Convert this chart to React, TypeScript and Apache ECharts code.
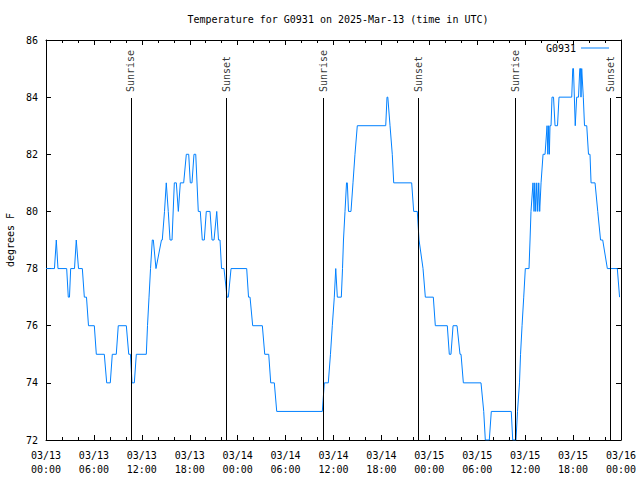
import React, { useEffect, useRef } from 'react';
import * as echarts from 'echarts';

const chartTitle = 'Temperature for G0931 on 2025-Mar-13 (time in UTC)';
const seriesName = 'G0931';
const yAxisName = 'degrees F';

// hours since 2025-03-13 00:00 UTC
const hours = [
  0, 1.06, 1.29, 1.5, 2.59, 2.79, 2.94, 3.09, 3.57, 3.79, 4.07, 4.55, 4.8, 5.07, 5.32, 6.05, 6.3, 7.3, 7.6, 8.05,
  8.3, 8.8, 9.05, 10.06, 10.36, 10.58, 10.77, 11.06, 11.31, 12.56, 12.71, 12.9, 13.09, 13.31, 13.44, 13.77, 14.46, 14.56, 14.84, 15.06,
  15.31, 15.53, 15.78, 16.07, 16.32, 16.57, 16.82, 17.24, 17.57, 17.87, 18.07, 18.28, 18.53, 18.75, 19.07, 19.32, 19.57, 19.82, 20.07, 20.54,
  20.79, 21.04, 21.38, 21.6, 21.79, 21.98, 22.29, 22.67, 22.83, 23.17, 25.13, 25.36, 25.55, 25.88, 27.09, 27.39, 27.89, 28.14, 28.59, 28.89,
  34.6, 34.85, 35.35, 35.62, 35.85, 36.1, 36.28, 36.48, 36.98, 37.13, 37.25, 37.44, 37.63, 37.73, 37.88, 38.19, 38.44, 38.69, 38.98, 42.54,
  42.7, 42.8, 43.08, 43.36, 43.54, 45.79, 46.04, 46.49, 46.71, 47.21, 47.5, 48.5, 48.75, 50.25, 50.5, 50.71, 50.97, 51.47, 51.84, 51.97,
  52.26, 54.47, 54.81, 55.01, 55.51, 55.76, 58.26, 58.44, 58.85, 59.04, 59.29, 59.42, 59.61, 59.82, 60.02, 60.48, 60.61, 60.73, 60.98, 61.11,
  61.2, 61.32, 61.45, 61.57, 61.7, 61.82, 61.99, 62.24, 62.49, 62.74, 62.84, 62.95, 63.03, 63.11, 63.24, 63.36, 63.55, 63.74, 64.05, 64.24,
  65.83, 65.96, 66.05, 66.27, 66.45, 66.68, 66.84, 66.93, 66.99, 67.08, 67.16, 67.28, 67.43, 67.71, 67.93, 68.12, 68.25, 68.75, 69.09, 69.44,
  69.71, 70.29, 71.54, 71.82,
];

const tempF = [
  78, 78, 79, 78, 78, 77, 77, 78, 78, 79, 78, 78, 77, 77, 76, 76, 75, 75, 74, 74,
  75, 75, 76, 76, 75, 75, 74, 74, 75, 75, 76, 77, 78, 79, 79, 78, 79, 79, 80, 81,
  80, 79, 79, 81, 81, 80, 81, 81, 82, 82, 81, 81, 82, 82, 80, 80, 79, 79, 80, 80,
  79, 79, 80, 79, 79, 78, 78, 77, 77, 78, 78, 77, 77, 76, 76, 75, 75, 74, 74, 73,
  73, 74, 74, 75, 76, 77, 78, 77, 77, 78, 79, 80, 81, 81, 80, 80, 81, 82, 83, 83,
  84, 84, 83, 82, 81, 81, 80, 80, 79, 78, 77, 77, 76, 76, 75, 75, 76, 76, 75, 75,
  74, 74, 73, 72, 72, 73, 73, 72, 72, 73, 74, 75, 76, 77, 78, 78, 79, 80, 81, 80,
  81, 80, 81, 80, 81, 80, 81, 82, 82, 83, 82, 83, 82, 83, 83, 84, 84, 83, 83, 84,
  84, 85, 85, 83, 84, 84, 85, 85, 84, 85, 85, 84, 83, 83, 82, 82, 81, 81, 80, 79,
  79, 78, 78, 77,
];

const xTickLabels = [
  '03/13\n00:00', '03/13\n06:00', '03/13\n12:00', '03/13\n18:00',
  '03/14\n00:00', '03/14\n06:00', '03/14\n12:00', '03/14\n18:00',
  '03/15\n00:00', '03/15\n06:00', '03/15\n12:00', '03/15\n18:00',
  '03/16\n00:00',
];

const sunHours = [10.64, 22.56, 34.7, 46.6, 58.74, 70.64];
const sunNames = ['Sunrise', 'Sunset', 'Sunrise', 'Sunset', 'Sunrise', 'Sunset'];

const FONT = 'DejaVu Sans Mono';

export default function App() {
  const ref = useRef<HTMLDivElement>(null);
  useEffect(() => {
    if (!ref.current) return;
    const chart = echarts.init(ref.current, null, { renderer: 'svg' });
    const black = '#000';
    const tickCommon = {
      axisLine: { show: true, onZero: false, lineStyle: { color: black, width: 1 } },
      axisTick: { show: true, inside: true, length: 5, lineStyle: { color: black, width: 1 } },
      splitLine: { show: false },
    };
    const xCommon = {
      type: 'value', min: 0, max: 72, interval: 6,
      ...tickCommon,
      minorTick: { show: true, splitNumber: 3, length: 3, lineStyle: { color: black, width: 1 } },
    };
    const yCommon = { type: 'value', min: 72, max: 86, interval: 2, ...tickCommon };
    const data = hours.map((h, i) => [h, tempF[i]]);
    chart.setOption({
      animation: false,
      backgroundColor: '#fff',
      title: {
        text: chartTitle,
        left: 333,
        top: 9,
        textAlign: 'center',
        textStyle: { fontFamily: FONT, fontSize: 10, fontWeight: 'normal', color: black },
      },
      legend: {
        right: 26,
        top: 38,
        align: 'right',
        itemWidth: 28,
        itemHeight: 1,
        itemGap: 8,
        textStyle: { fontFamily: FONT, fontSize: 10, color: black },
        data: [{ name: seriesName, icon: 'rect' }],
      },
      grid: { left: 46, right: 19, top: 40, bottom: 40, containLabel: false, outerBoundsMode: 'none' },
      xAxis: [
        {
          ...xCommon,
          position: 'bottom',
          axisLabel: {
            formatter: (v: number) => xTickLabels[Math.round(v / 6)] ?? '',
            color: black, fontFamily: FONT, fontSize: 10, lineHeight: 14, margin: 8,
            showMinLabel: true, showMaxLabel: true,
          },
        },
        { ...xCommon, position: 'top', axisLabel: { show: false } },
      ],
      yAxis: [
        {
          ...yCommon,
          position: 'left',
          name: yAxisName,
          nameLocation: 'middle',
          nameGap: 31,
          nameRotate: 90,
          nameTextStyle: { fontFamily: FONT, fontSize: 10, color: black },
          axisLabel: { color: black, fontFamily: FONT, fontSize: 10, margin: 8 },
        },
        { ...yCommon, position: 'right', axisLabel: { show: false } },
      ],
      series: [
        {
          name: seriesName,
          type: 'line',
          data,
          symbol: 'none',
          showSymbol: false,
          lineStyle: { color: '#0080ff', width: 1 },
          itemStyle: { color: '#0080ff' },
          z: 3,
          silent: true,
        },
        {
          name: 'sun',
          type: 'scatter',
          data: sunHours.map((h, i) => ({ value: [h, 84.18], name: sunNames[i] })),
          symbolSize: 0,
          silent: true,
          label: {
            show: true,
            formatter: '{b}',
            position: [0, 0],
            rotate: 90,
            align: 'left',
            verticalAlign: 'middle',
            fontFamily: FONT,
            fontSize: 10,
            color: black,
          },
          markLine: {
            silent: true,
            symbol: 'none',
            label: { show: false },
            lineStyle: { color: black, width: 1, type: 'solid' },
            emphasis: { disabled: true },
            data: sunHours.map((h) => [{ coord: [h, 72] }, { coord: [h, 83.97] }]),
          },
        },
      ],
    });
    return () => chart.dispose();
  }, []);
  return (
    <div
      ref={ref}
      style={{ position: 'fixed', left: 0, top: 0, width: 640, height: 480, background: '#fff' }}
    />
  );
}
